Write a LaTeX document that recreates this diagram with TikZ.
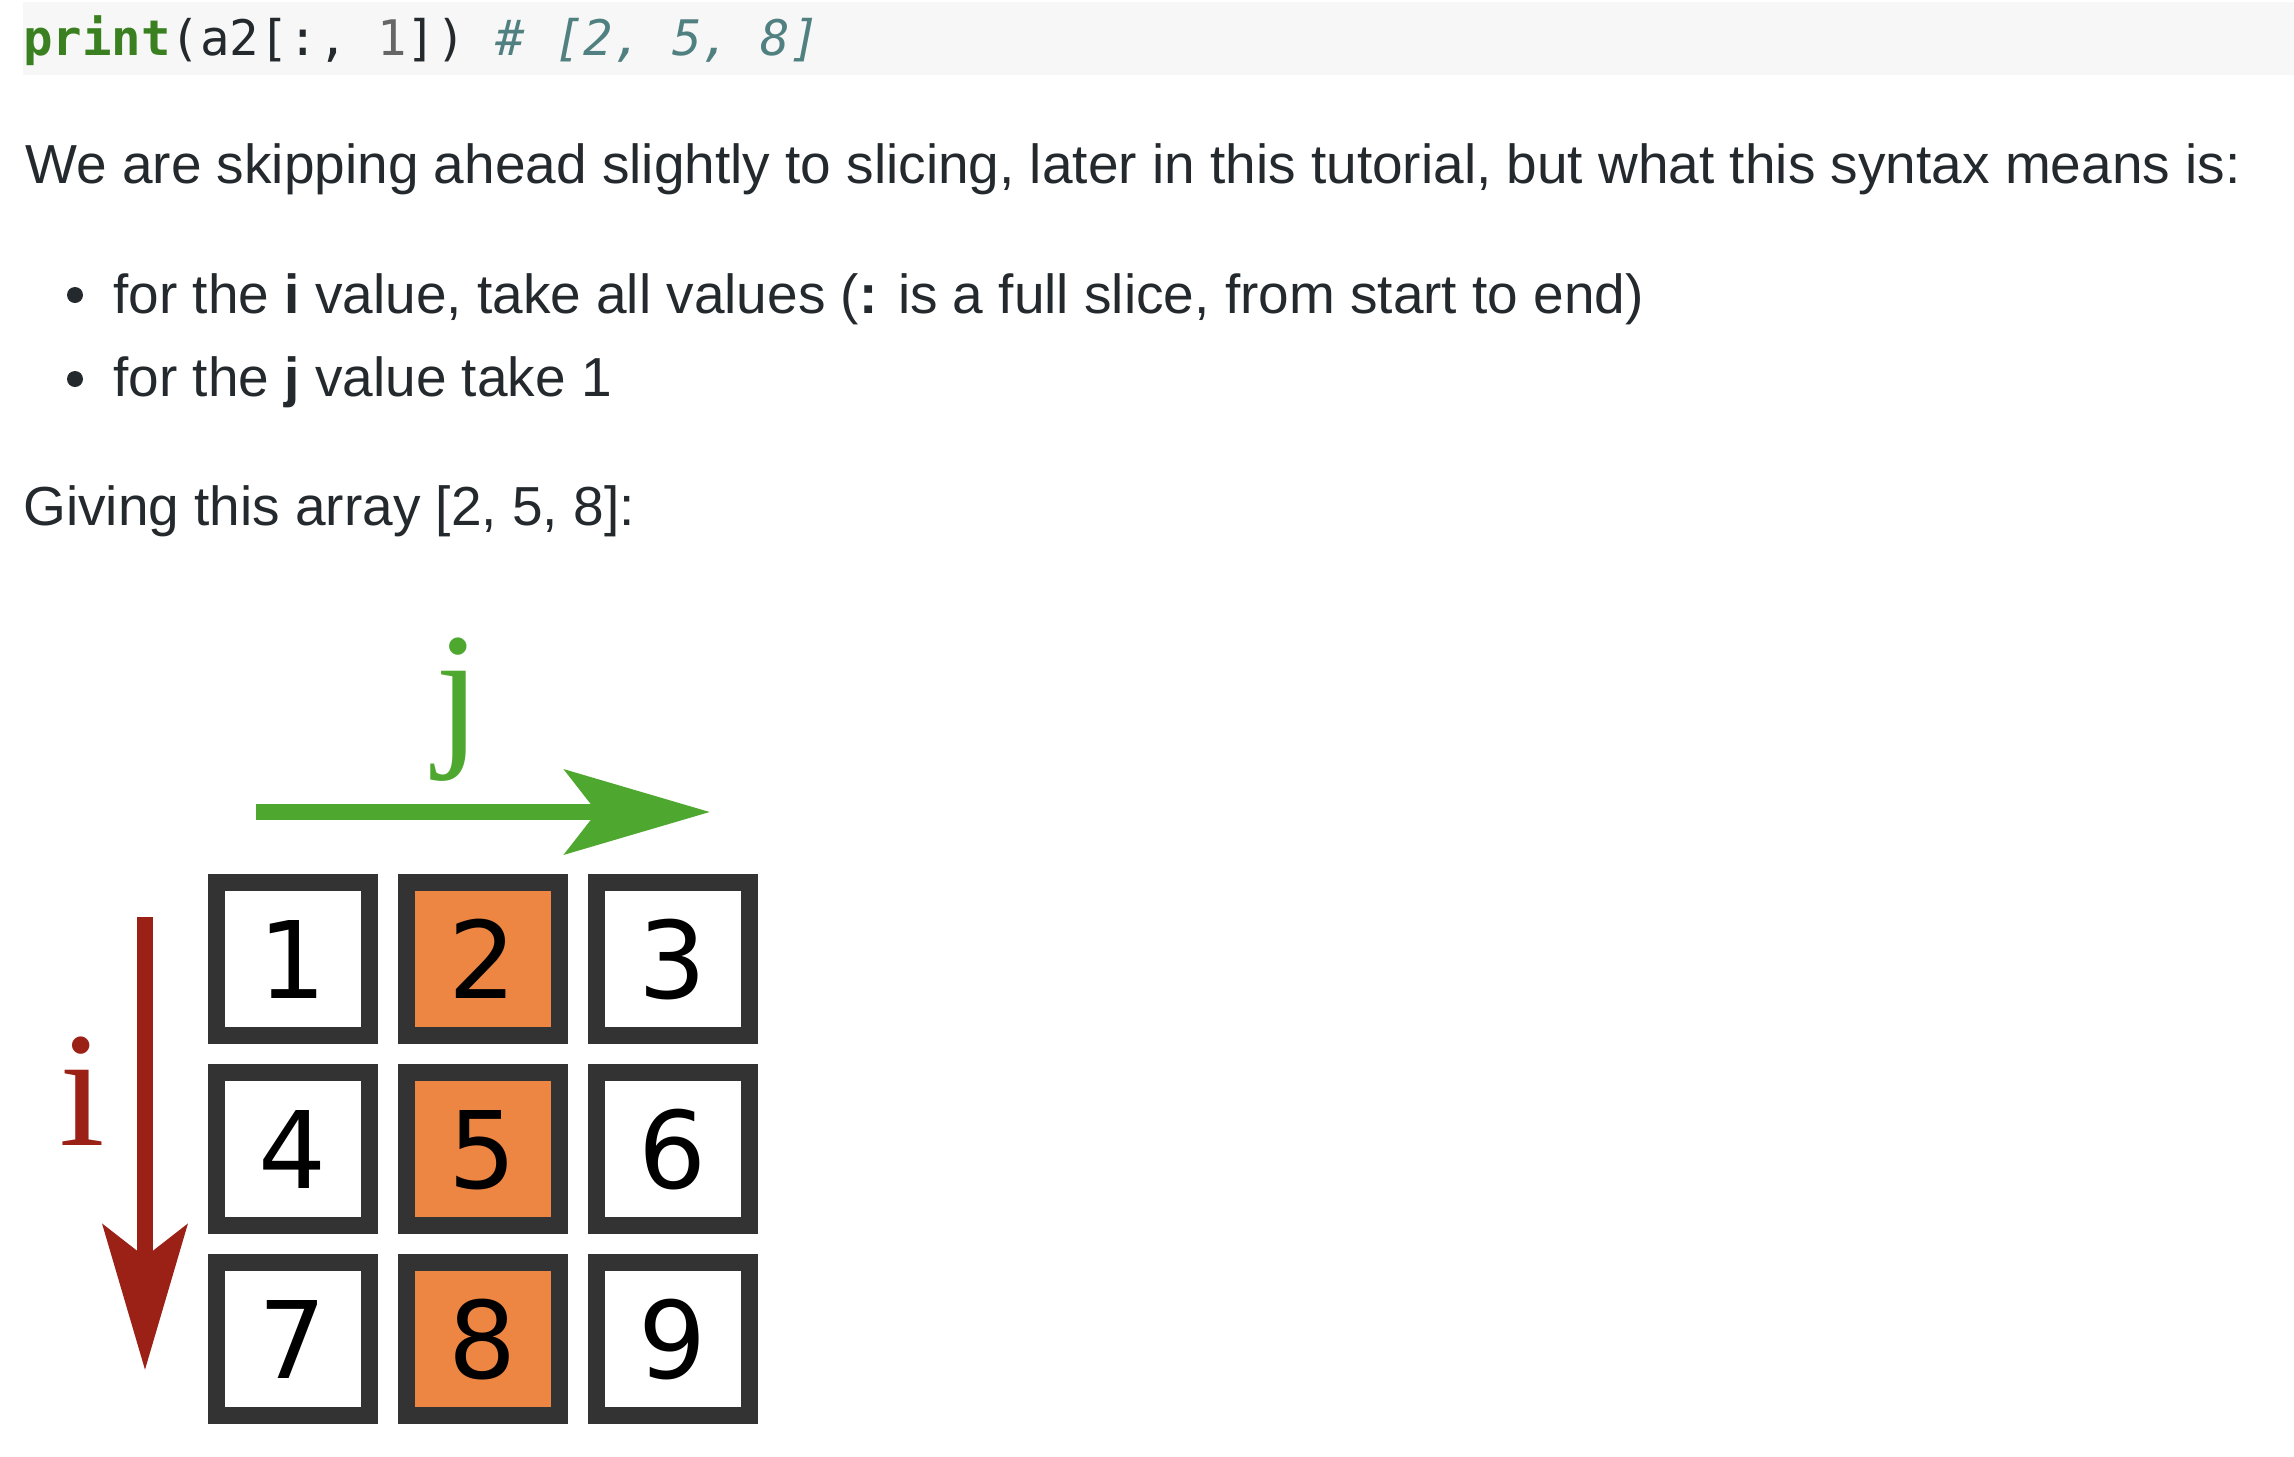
\documentclass[tikz,border=0pt]{standalone}
\usepackage{fontspec}
\setmainfont{Liberation Sans}
\newfontfamily\monofont{DejaVu Sans Mono}
\newfontfamily\cellfont{DejaVu Sans}
\newfontfamily\axisfont{Liberation Serif}
\usetikzlibrary{arrows.meta}
\definecolor{codebg}{RGB}{247,247,247}
\definecolor{kwgreen}{RGB}{58,128,32}
\definecolor{numgray}{RGB}{102,102,102}
\definecolor{cmteal}{RGB}{80,128,128}
\definecolor{txt}{RGB}{36,41,46}
\definecolor{cellborder}{RGB}{51,51,51}
\definecolor{cellorange}{RGB}{237,134,66}
\definecolor{axisred}{RGB}{155,32,22}
\definecolor{axisgreen}{RGB}{78,167,46}
\begin{document}
\begin{tikzpicture}[x=0.5pt,y=-0.5pt,
  bodytext/.style={anchor=base west,inner sep=0pt,text=txt,font=\fontsize{27.5}{33}\selectfont},
  cellbox/.style={draw=cellborder,line width=8.5pt,fill=white,minimum width=76.5pt,minimum height=76.5pt,inner sep=0pt},
  hicell/.style={cellbox,fill=cellorange},
  digit/.style={font=\cellfont\fontsize{53.5}{60}\selectfont,text=black},
  axisarrow/.style={line width=8pt,-{Stealth[length=72.5pt,width=42pt,inset=16pt]}}]
\useasboundingbox (0,0) rectangle (2294,1456);
% code line
\fill[codebg] (23,2) rectangle (2294,75);
\node[anchor=base west,inner sep=0pt,text=txt,font=\monofont\fontsize{24.5}{30}\selectfont] (code) at (23,55)
  {\textcolor{kwgreen}{\bfseries print}(a2[:, \textcolor{numgray}{1}]) \textcolor{cmteal}{\itshape\#\ [2, 5, 8]}};
% paragraph
\node[bodytext] (para) at (25,183) {We are skipping ahead slightly to slicing, later in this tutorial, but what this syntax means is:};
\fill[txt] (75,295) circle (8);
\fill[txt] (75,379) circle (8);
\node[bodytext] (b1) at (113,313) {for the \textbf{i} value, take all values (\textbf{:} is a full slice, from start to end)};
\node[bodytext] (b2) at (113,396) {for the \textbf{j} value take 1};
\node[bodytext] (giving) at (23,525) {Giving this array [2, 5, 8]:};
% grid
\foreach \r/\y in {0/959,1/1149,2/1339}{
  \foreach \c/\x in {0/293,1/483,2/673}{
    \pgfmathtruncatemacro{\n}{3*\r+\c+1}
    \ifnum\c=1
      \node[hicell] (c\n) at (\x,\y) {};
    \else
      \node[cellbox] (c\n) at (\x,\y) {};
    \fi
    \node[digit,anchor=base,inner sep=0pt] (d\n) at (\x,\y+39) {\n};
  }
}
% axes
\coordinate (istart) at (145,917);
\coordinate (iend) at (145,1370);
\draw[axisarrow,draw=axisred,fill=axisred] (istart) -- (iend);
\node[anchor=base,inner sep=0pt,text=axisred,font=\axisfont\fontsize{82}{88}\selectfont] (ilabel) at (82,1145) {i};
\coordinate (jstart) at (256,812);
\coordinate (jend) at (710,812);
\draw[axisarrow,draw=axisgreen,fill=axisgreen] (jstart) -- (jend);
\node[anchor=base,inner sep=0pt,text=axisgreen,font=\axisfont\fontsize{82}{88}\selectfont] (jlabel) at (458,746) {j};
\end{tikzpicture}
\end{document}
